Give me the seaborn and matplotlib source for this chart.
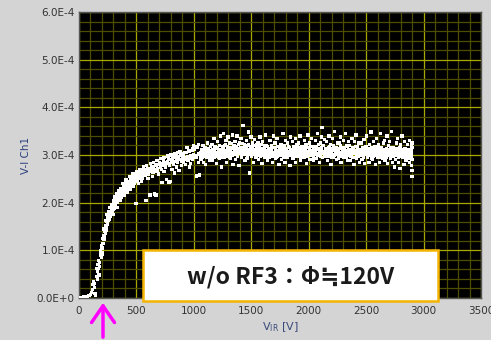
import matplotlib
matplotlib.use("Agg")
import matplotlib.pyplot as plt
import matplotlib.patches as patches
from matplotlib.ticker import MultipleLocator
import seaborn as sns

# V-I curve (V_IR in volts, current in units of 1e-4)
v_base = [0, 12, 25, 38, 50, 62, 75, 88, 100, 110, 118, 122, 128, 133, 138, 140, 146]
i_base = [0.00, 0.01, 0.00, 0.02, 0.01, 0.03, 0.02, 0.05, 0.08, 0.12, 0.18, 0.28, 0.34, 0.22, 0.30, 0.10, 0.05]

v_rise = [158, 162, 165, 170, 175, 180, 186, 190, 194, 200, 205, 210, 214, 218, 222, 228, 232, 238, 242, 248,
          254, 260, 265, 272, 278, 285, 290, 296, 302, 308, 315, 320, 326, 332, 338, 344, 350, 356, 362, 368,
          375, 382, 390, 398, 405, 412, 420, 428, 436, 444, 452, 460, 468, 476, 484, 492, 500, 510, 520, 530,
          540, 550, 560, 570, 580, 590, 600, 612, 624, 636, 648, 660, 672, 684, 696, 708, 720, 732, 744, 756,
          768, 780, 792, 804, 816, 828, 840, 852, 864, 876, 888, 900, 912, 924, 936, 948, 960, 972, 984, 996,
          1008, 1020, 1032, 1044]
i_rise = [0.40, 0.55, 0.70, 0.62, 0.48, 0.75, 0.90, 1.00, 0.86, 1.05, 0.95, 1.15, 1.30, 1.22, 1.40, 1.35, 1.52, 1.60, 1.48, 1.68,
          1.62, 1.75, 1.70, 1.82, 1.78, 1.88, 1.95, 1.85, 1.98, 1.92, 2.05, 1.98, 2.10, 2.02, 2.15, 2.08, 2.20, 2.12, 2.25, 2.18,
          2.28, 2.22, 2.32, 2.26, 2.36, 2.30, 2.40, 2.34, 2.44, 2.38, 2.46, 2.42, 2.50, 2.45, 2.52, 2.48, 2.56, 2.50, 2.58, 2.54,
          2.62, 2.56, 2.64, 2.60, 2.68, 2.62, 2.70, 2.65, 2.72, 2.68, 2.75, 2.70, 2.78, 2.72, 2.80, 2.75, 2.82, 2.78, 2.85, 2.80,
          2.86, 2.82, 2.90, 2.84, 2.92, 2.86, 2.95, 2.88, 2.96, 2.90, 3.00, 2.92, 3.02, 2.94, 3.05, 2.96, 3.08, 2.98, 3.10, 3.00,
          3.12, 2.95, 3.15, 3.02]

# extra scatter around the rising part
v_spread = [300, 330, 360, 395, 420, 445, 470, 496, 520, 545, 583, 600, 618, 640, 660, 670, 690, 722, 740, 760,
            783, 792, 810, 830, 850, 870, 890, 910, 930, 950, 970, 990, 1024, 1040, 880, 940, 1000, 960,
            380, 410, 440, 470, 500, 530, 560, 590, 620, 650, 680, 710, 740, 770, 800, 830, 860,
            150, 155, 168, 172, 178, 184, 196, 202, 208, 216, 224, 230, 236, 244, 250, 256, 262, 268, 276, 282,
            292, 298, 306, 312, 318, 324, 336, 346, 354, 366, 372, 386, 392, 402, 416, 424, 432, 448, 456, 464,
            480, 488, 504, 516, 526, 536, 556, 566, 576, 596, 606, 630, 644, 666, 678, 700, 716, 736, 750, 776,
            788, 812, 822, 846, 858, 882, 896, 918, 930, 954, 966, 990, 1002, 1014, 1026, 1038]
i_spread = [1.75, 1.90, 2.05, 2.15, 2.22, 2.28, 2.35, 1.98, 2.40, 2.45, 2.05, 2.50, 2.16, 2.55, 2.18, 2.16, 2.60, 2.43, 2.65, 2.48,
            2.43, 2.45, 2.70, 2.62, 2.75, 2.68, 2.78, 2.85, 2.80, 2.88, 2.82, 2.90, 2.56, 2.85, 3.08, 3.15, 3.20, 2.75,
            2.40, 2.48, 2.55, 2.60, 2.65, 2.70, 2.75, 2.78, 2.82, 2.85, 2.88, 2.92, 2.95, 2.98, 3.00, 3.02, 3.05,
            0.45, 0.62, 0.50, 0.78, 0.66, 0.98, 1.10, 0.92, 1.25, 1.45, 1.28, 1.62, 1.42, 1.75, 1.55, 1.82, 1.65, 1.90, 1.72, 1.95,
            1.80, 2.05, 1.88, 2.12, 1.95, 2.18, 2.00, 2.25, 2.08, 2.30, 2.12, 2.35, 2.18, 2.42, 2.25, 2.45, 2.30, 2.50, 2.35, 2.55,
            2.40, 2.58, 2.45, 2.62, 2.50, 2.66, 2.52, 2.70, 2.58, 2.72, 2.60, 2.76, 2.64, 2.80, 2.66, 2.84, 2.70, 2.88, 2.74, 2.92,
            2.78, 2.96, 2.80, 3.00, 2.84, 3.02, 2.86, 3.06, 2.90, 3.10, 2.92, 3.14, 2.94, 3.18, 2.98, 3.22]

# plateau 1050 - 2900 V, wide band
v_flat = [1052, 1058, 1063, 1069, 1075, 1080, 1086, 1091, 1097, 1103, 1108, 1114, 1120, 1126, 1133, 1140, 1146,
          1152, 1158, 1163, 1170, 1176, 1181, 1187, 1193, 1199, 1205, 1211, 1217, 1223, 1229, 1235, 1241, 1247,
          1252, 1257, 1263, 1268, 1274, 1280, 1286, 1292, 1298, 1304, 1310, 1316, 1322, 1328, 1334, 1340, 1346,
          1352, 1358, 1364, 1370, 1375, 1381, 1387, 1393, 1399, 1405, 1411, 1417, 1423, 1427, 1433, 1439, 1445,
          1451, 1457, 1462, 1468, 1474, 1480, 1486, 1492, 1498, 1504, 1510, 1516, 1522, 1528, 1534, 1540, 1546,
          1552, 1558, 1564, 1570, 1576, 1582, 1588, 1594, 1600, 1606, 1612, 1618, 1624, 1630, 1636, 1642, 1648,
          1652, 1658, 1664, 1670, 1676, 1682, 1688, 1694, 1700, 1706, 1712, 1718, 1724, 1730, 1736, 1742, 1748,
          1752, 1758, 1764, 1770, 1776, 1782, 1788, 1794, 1800, 1806, 1812, 1818, 1824, 1830, 1836, 1842, 1848,
          1852, 1858, 1864, 1870, 1876, 1882, 1888, 1894, 1900, 1906, 1912, 1918, 1924, 1930, 1936, 1942, 1948,
          1952, 1958, 1964, 1970, 1976, 1982, 1988, 1994, 2000, 2006, 2012, 2018, 2024, 2030, 2036, 2042, 2048,
          2052, 2058, 2064, 2070, 2076, 2082, 2088, 2094, 2100, 2106, 2112, 2116, 2122, 2128, 2134, 2140, 2146,
          2152, 2158, 2164, 2170, 2176, 2182, 2188, 2194, 2200, 2206, 2212, 2218, 2224, 2230, 2236, 2242, 2248,
          2252, 2258, 2264, 2270, 2276, 2282, 2288, 2294, 2300, 2306, 2312, 2318, 2324, 2330, 2336, 2342, 2348,
          2352, 2358, 2364, 2370, 2376, 2382, 2388, 2394, 2400, 2406, 2412, 2418, 2424, 2430, 2436, 2442, 2448,
          2452, 2458, 2464, 2470, 2476, 2482, 2488, 2494, 2500, 2506, 2512, 2518, 2524, 2530, 2536, 2542, 2548,
          2552, 2558, 2564, 2570, 2576, 2582, 2588, 2594, 2600, 2606, 2612, 2618, 2624, 2630, 2636, 2642, 2648,
          2652, 2658, 2664, 2670, 2676, 2682, 2688, 2694, 2700, 2706, 2712, 2718, 2724, 2730, 2736, 2742, 2748,
          2752, 2758, 2764, 2770, 2776, 2782, 2788, 2794, 2800, 2806, 2812, 2818, 2824, 2830, 2836, 2842, 2848,
          2852, 2858, 2864, 2870, 2876, 2880, 2884, 2888, 2892, 2895, 2898, 2900, 2900, 2900, 2900, 2900]
i_flat = [2.58, 3.05, 2.90, 3.12, 2.98, 3.20, 2.85, 3.02, 3.15, 2.80, 3.08, 2.95, 3.25, 3.00, 2.88, 3.10, 3.18,
          3.00, 3.22, 2.88, 3.10, 3.35, 2.95, 3.05, 3.15, 2.82, 3.28, 3.02, 3.12, 2.92, 3.40, 3.08, 2.75, 3.18,
          3.10, 3.45, 2.95, 3.20, 3.02, 3.30, 2.85, 3.12, 3.38, 3.00, 3.25, 2.92, 3.15, 3.05, 3.42, 2.80, 3.18,
          3.08, 3.28, 2.90, 3.18, 3.40, 3.00, 3.12, 2.78, 3.25, 3.05, 3.35, 2.95, 3.15, 3.62, 3.02, 3.22, 2.88,
          3.10, 3.30, 2.92, 3.20, 3.48, 3.02, 2.62, 3.15, 3.38, 2.98, 3.25, 3.05, 2.85, 3.32, 3.12, 2.95, 3.22,
          3.05, 3.25, 2.90, 3.15, 3.38, 3.00, 3.12, 2.82, 3.28, 3.08, 3.20, 2.95, 3.42, 3.02, 3.18, 2.88, 3.10,
          3.12, 2.95, 3.30, 3.05, 3.20, 2.85, 3.15, 3.40, 3.00, 3.25, 2.92, 3.10, 3.35, 2.98, 3.18, 2.80, 3.08,
          3.05, 3.22, 2.90, 3.12, 3.45, 3.00, 3.18, 2.85, 3.30, 3.08, 2.95, 3.25, 3.02, 3.15, 2.78, 3.38, 3.10,
          3.08, 3.28, 2.92, 3.15, 3.02, 3.35, 2.85, 3.20, 3.10, 2.98, 3.25, 3.05, 3.40, 2.88, 3.12, 3.18, 2.95,
          3.12, 2.95, 3.30, 3.05, 3.22, 2.82, 3.15, 3.42, 3.00, 3.25, 2.90, 3.10, 3.35, 3.02, 3.18, 2.88, 3.08,
          3.10, 3.30, 2.92, 3.18, 3.45, 3.02, 3.12, 2.85, 3.25, 3.05, 3.38, 3.58, 2.95, 3.20, 3.08, 3.32, 2.98,
          3.05, 3.28, 2.88, 3.15, 3.40, 3.00, 3.22, 2.80, 3.12, 3.35, 2.95, 3.18, 3.50, 3.02, 3.10, 2.90, 3.25,
          3.08, 2.92, 3.25, 3.02, 3.38, 2.85, 3.15, 3.05, 3.30, 2.95, 3.12, 3.45, 3.00, 3.20, 2.88, 3.10, 3.28,
          3.02, 3.20, 2.88, 3.10, 3.35, 2.95, 3.15, 2.80, 3.28, 3.05, 3.42, 2.92, 3.18, 3.00, 3.25, 2.85, 3.08,
          3.05, 3.25, 2.90, 3.12, 2.98, 3.32, 2.82, 3.18, 3.02, 3.40, 2.95, 3.10, 2.85, 3.22, 3.08, 3.48, 2.92,
          3.10, 2.90, 3.28, 3.02, 3.18, 2.80, 3.35, 3.05, 2.95, 3.22, 3.12, 2.85, 3.45, 3.00, 3.15, 2.92, 3.25,
          3.05, 3.30, 2.88, 3.12, 2.98, 3.40, 2.82, 3.20, 3.02, 3.28, 2.92, 3.10, 3.50, 2.85, 3.15, 3.00, 2.75,
          3.08, 2.90, 3.25, 3.00, 3.35, 2.85, 3.15, 2.72, 3.22, 3.02, 3.40, 2.95, 3.12, 2.80, 3.28, 3.05, 2.88,
          3.00, 3.22, 2.92, 3.10, 2.85, 3.30, 3.05, 2.95, 3.18, 2.78, 3.08, 2.55, 2.68, 2.90, 3.15, 3.25]

# plateau, dense core of the band
v_core = [1055, 1061, 1066, 1072, 1078, 1083, 1089, 1094, 1100, 1106, 1111, 1117, 1123, 1129, 1136, 1143, 1149,
          1155, 1161, 1166, 1173, 1179, 1184, 1190, 1196, 1202, 1208, 1214, 1220, 1226, 1232, 1238, 1244, 1249,
          1255, 1260, 1266, 1271, 1277, 1283, 1289, 1295, 1301, 1307, 1313, 1319, 1325, 1331, 1337, 1343, 1349,
          1355, 1361, 1367, 1373, 1378, 1384, 1390, 1396, 1402, 1408, 1414, 1420, 1425, 1430, 1436, 1442, 1448,
          1454, 1460, 1465, 1471, 1477, 1483, 1489, 1495, 1501, 1507, 1513, 1519, 1525, 1531, 1537, 1543, 1549,
          1555, 1561, 1567, 1573, 1579, 1585, 1591, 1597, 1603, 1609, 1615, 1621, 1627, 1633, 1639, 1645, 1650,
          1655, 1661, 1667, 1673, 1679, 1685, 1691, 1697, 1703, 1709, 1715, 1721, 1727, 1733, 1739, 1745, 1750,
          1755, 1761, 1767, 1773, 1779, 1785, 1791, 1797, 1803, 1809, 1815, 1821, 1827, 1833, 1839, 1845, 1850,
          1855, 1861, 1867, 1873, 1879, 1885, 1891, 1897, 1903, 1909, 1915, 1921, 1927, 1933, 1939, 1945, 1950,
          1955, 1961, 1967, 1973, 1979, 1985, 1991, 1997, 2003, 2009, 2015, 2021, 2027, 2033, 2039, 2045, 2050,
          2055, 2061, 2067, 2073, 2079, 2085, 2091, 2097, 2103, 2109, 2114, 2119, 2125, 2131, 2137, 2143, 2149,
          2155, 2161, 2167, 2173, 2179, 2185, 2191, 2197, 2203, 2209, 2215, 2221, 2227, 2233, 2239, 2245, 2250,
          2255, 2261, 2267, 2273, 2279, 2285, 2291, 2297, 2303, 2309, 2315, 2321, 2327, 2333, 2339, 2345, 2350,
          2355, 2361, 2367, 2373, 2379, 2385, 2391, 2397, 2403, 2409, 2415, 2421, 2427, 2433, 2439, 2445, 2450,
          2455, 2461, 2467, 2473, 2479, 2485, 2491, 2497, 2503, 2509, 2515, 2521, 2527, 2533, 2539, 2545, 2550,
          2555, 2561, 2567, 2573, 2579, 2585, 2591, 2597, 2603, 2609, 2615, 2621, 2627, 2633, 2639, 2645, 2650,
          2655, 2661, 2667, 2673, 2679, 2685, 2691, 2697, 2703, 2709, 2715, 2721, 2727, 2733, 2739, 2745, 2750,
          2755, 2761, 2767, 2773, 2779, 2785, 2791, 2797, 2803, 2809, 2815, 2821, 2827, 2833, 2839, 2845, 2850,
          2855, 2861, 2867, 2873, 2878, 2882, 2886, 2890, 2894, 2897]
i_core = [3.00, 2.92, 3.08, 3.02, 2.95, 3.10, 3.05, 2.98, 3.12, 3.00, 2.94, 3.06, 3.14, 2.97, 3.03, 2.92, 3.08,
          3.05, 2.96, 3.12, 3.00, 3.08, 3.18, 2.98, 3.06, 3.14, 3.02, 2.94, 3.10, 3.20, 3.00, 3.12, 3.04, 2.96,
          3.04, 3.15, 3.00, 3.10, 3.22, 2.98, 3.06, 3.18, 3.02, 3.12, 2.95, 3.08, 3.24, 3.00, 3.14, 3.06, 3.20,
          3.12, 3.02, 3.18, 3.08, 2.98, 3.14, 3.22, 3.04, 3.10, 3.16, 3.00, 3.24, 3.08, 3.14, 3.06, 3.18, 3.02,
          3.06, 3.16, 3.00, 3.12, 3.22, 3.04, 3.10, 3.18, 2.98, 3.08, 3.14, 3.20, 3.02, 3.12, 3.06, 3.16, 3.00,
          3.10, 3.02, 3.18, 3.08, 2.98, 3.14, 3.22, 3.04, 3.12, 3.00, 3.16, 3.06, 3.10, 3.20, 2.96, 3.08, 3.14,
          3.04, 3.14, 3.00, 3.10, 3.20, 2.98, 3.06, 3.16, 3.02, 3.12, 3.08, 2.96, 3.18, 3.04, 3.10, 3.14, 3.00,
          3.08, 3.00, 3.16, 3.06, 2.96, 3.12, 3.20, 3.02, 3.10, 3.14, 2.98, 3.08, 3.18, 3.04, 3.12, 3.00, 3.06,
          3.12, 3.02, 3.18, 3.08, 2.98, 3.14, 3.06, 3.22, 3.00, 3.10, 3.16, 3.04, 2.96, 3.12, 3.08, 3.02, 3.18,
          3.06, 3.14, 3.00, 3.10, 3.20, 2.98, 3.08, 3.16, 3.04, 3.12, 3.00, 3.18, 3.06, 3.10, 2.96, 3.14, 3.02,
          3.08, 3.18, 3.02, 3.12, 3.00, 3.22, 3.06, 3.14, 2.98, 3.10, 3.16, 3.04, 3.20, 3.08, 3.00, 3.14, 3.06,
          3.04, 3.12, 2.98, 3.08, 3.18, 3.02, 3.14, 3.06, 2.96, 3.10, 3.20, 3.00, 3.12, 3.06, 3.16, 3.02, 3.08,
          3.10, 3.00, 3.14, 3.06, 3.20, 2.98, 3.08, 3.12, 3.02, 3.16, 3.04, 3.10, 2.96, 3.18, 3.06, 3.00, 3.12,
          3.06, 2.98, 3.12, 3.02, 3.16, 3.08, 2.94, 3.10, 3.04, 3.18, 3.00, 3.08, 3.14, 2.98, 3.06, 3.12, 3.02,
          3.00, 3.10, 3.04, 3.16, 2.96, 3.08, 3.12, 3.02, 3.18, 3.06, 2.98, 3.14, 3.04, 3.10, 3.00, 3.16, 3.06,
          3.04, 3.14, 2.98, 3.08, 3.12, 3.00, 3.18, 3.06, 3.02, 3.10, 2.94, 3.16, 3.04, 3.08, 3.12, 2.98, 3.06,
          3.02, 3.10, 3.06, 2.96, 3.14, 3.04, 3.00, 3.12, 3.08, 2.94, 3.16, 3.02, 3.10, 3.06, 2.98, 3.14, 3.04,
          3.00, 3.08, 3.14, 3.02, 2.96, 3.10, 3.04, 3.18, 2.98, 3.06, 3.12, 3.00, 3.08, 2.94, 3.14, 3.04, 3.10,
          2.98, 3.06, 3.12, 3.00, 2.92, 3.08, 3.02, 2.96, 3.10, 3.04]

x_ticks = [0, 500, 1000, 1500, 2000, 2500, 3000, 3500]
y_ticks = [0, 1e-4, 2e-4, 3e-4, 4e-4, 5e-4, 6e-4]
y_labels = ["0.0E+0", "1.0E-4", "2.0E-4", "3.0E-4", "4.0E-4", "5.0E-4", "6.0E-4"]

v_ir = v_base + v_rise + v_spread + v_flat + v_core
vi_ch1 = [i * 1e-4 for i in i_base + i_rise + i_spread + i_flat + i_core]

sns.set_style("dark")
fig = plt.figure(figsize=(4.91, 3.40), dpi=100)
fig.patch.set_facecolor("#d4d4d4")
ax = fig.add_axes([79 / 491, 42 / 340, 402 / 491, 286 / 340])
ax.set_facecolor("black")

# LabVIEW style grid
ax.set_xlim(0, 3500)
ax.set_ylim(0, 6e-4)
ax.xaxis.set_major_locator(MultipleLocator(500))
ax.xaxis.set_minor_locator(MultipleLocator(100))
ax.yaxis.set_major_locator(MultipleLocator(1e-4))
ax.yaxis.set_minor_locator(MultipleLocator(2e-5))
ax.grid(which="major", color="#a8a800", linewidth=0.9)
ax.grid(which="minor", color="#4e4e00", linewidth=0.9)
ax.set_axisbelow(True)

sns.scatterplot(x=v_ir, y=vi_ch1, ax=ax, marker="s", s=5.5, color="white",
                linewidth=0, edgecolor="none", zorder=3)

ax.set_xticks(x_ticks)
ax.set_yticks(y_ticks)
ax.set_yticklabels(y_labels)
ax.tick_params(which="both", length=0, labelsize=7.5, labelcolor="#333333")
ax.tick_params(axis="x", pad=6)
ax.tick_params(axis="y", pad=3)
for sp in ax.spines.values():
    sp.set_color("#555555")
    sp.set_linewidth(1)

ax.set_ylabel("V-I Ch1", fontsize=7.5, color="#2b3f7f", labelpad=4)
ax.set_xlabel("V$_{\\mathrm{IR}}$ [V]", fontsize=8, color="#3a4a7a", labelpad=3)

# annotation box
box = patches.Rectangle((143 / 491, 39 / 340), 295 / 491, 51 / 340, transform=fig.transFigure,
                        facecolor="white", edgecolor="#f5b400", linewidth=1.8, zorder=5)
fig.patches.append(box)
fig.text(291 / 491, 63 / 340, "w/o RF3：Φ≒120V", ha="center", va="center", fontsize=16.5,
         fontweight="bold", color="#1a1a1a", family=["Noto Sans CJK JP", "DejaVu Sans"], zorder=6)

# magenta arrow under the onset
fig.patches.append(patches.FancyArrowPatch((103 / 491, 0.0), (103 / 491, 40 / 340), transform=fig.transFigure,
                                           arrowstyle="->,head_length=8,head_width=5.5", color="#ff00ff",
                                           linewidth=2.5, mutation_scale=1.5))

fig.savefig("out.png", dpi=100, facecolor=fig.get_facecolor())
